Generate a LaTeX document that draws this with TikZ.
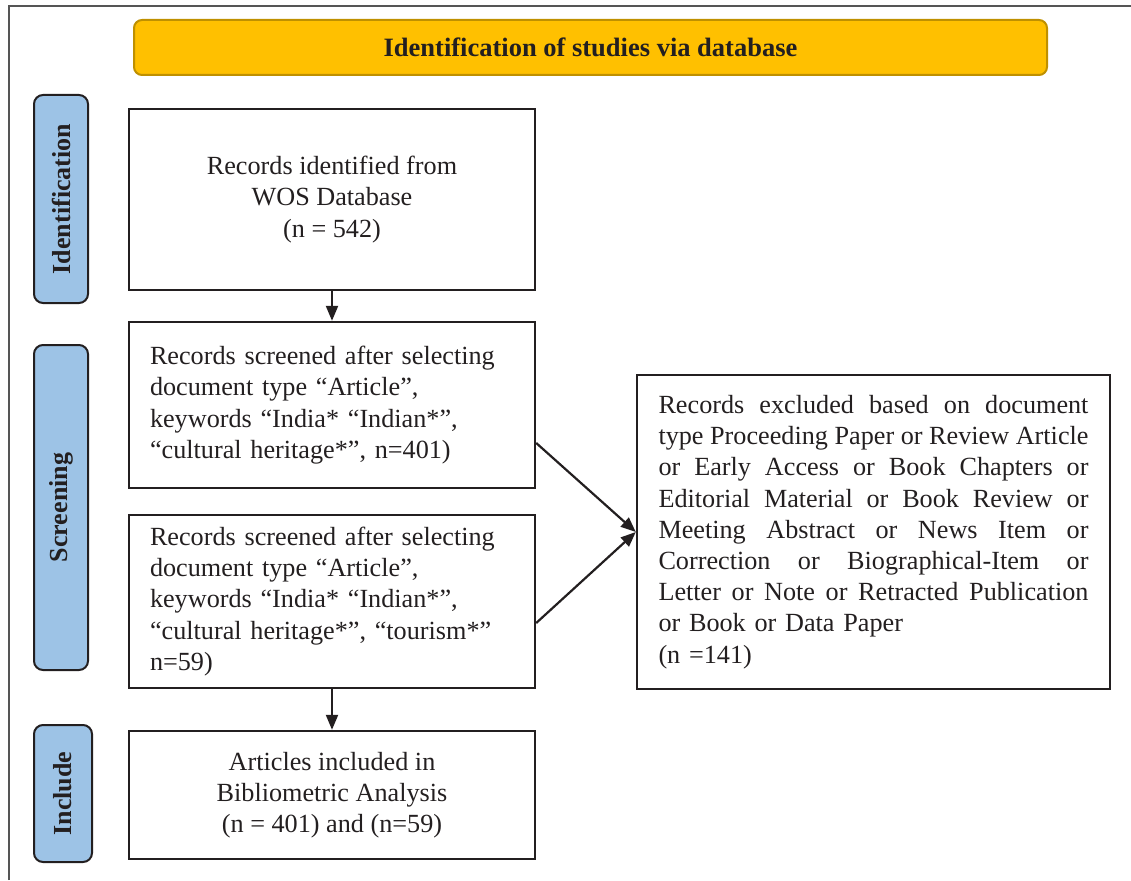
\documentclass[tikz,border=0pt]{standalone}
\usepackage{fontspec}
\setmainfont{Liberation Serif}
\usetikzlibrary{arrows.meta}
\definecolor{ink}{HTML}{231F20}
\definecolor{bannerfill}{HTML}{FFC000}
\definecolor{bannerline}{HTML}{BF9000}
\definecolor{phasefill}{HTML}{9DC3E6}
\definecolor{framegray}{HTML}{555555}
% one fully justified line of fixed width
\newcommand\jline[1]{\leavevmode\hbox to 430pt{\spaceskip=0.25em plus 1fil minus 0.1em\relax #1}}
\begin{document}
\begin{tikzpicture}[x=1pt,y=-1pt,
  every node/.style={text=ink, font=\fontsize{26.2}{31.2}\selectfont, inner sep=0pt},
  banner/.style={draw=bannerline, fill=bannerfill, line width=2pt, rounded corners=8pt,
    minimum width=913pt, minimum height=55pt, font=\fontsize{26.5}{30}\selectfont\bfseries},
  phase/.style={draw=ink, fill=phasefill, line width=2pt, rounded corners=9pt, rotate=90,
    font=\fontsize{26}{30}\selectfont\bfseries},
  stagebox/.style={draw=ink, line width=2.4pt, minimum width=406pt},
  flow/.style={draw=ink, line width=2.2pt, -{Triangle[length=15pt,width=12pt]}}
]
\useasboundingbox (0,0) rectangle (1131,880);
% partial outer frame
\draw[framegray, line width=1.5pt] (9,880) -- (9,6) -- (1131,6);

% title banner
\node[banner] (title) at (590.5,47.5) {Identification of studies via database};

% phase labels
\node[phase, minimum width=208pt, minimum height=54pt] (pid) at (61,199) {Identification};
\node[phase, minimum width=325pt, minimum height=54pt] (pscr) at (61,507.5) {Screening};
\node[phase, minimum width=137pt, minimum height=58pt] (pinc) at (63,793.5) {Include};

% flow boxes
\node[stagebox, minimum height=181pt, align=center] (b1) at (332,199.5)
  {Records identified from\\WOS Database\\(n = 542)};
\node[stagebox, minimum height=166pt, text width=364pt, align=left] (b2) at (332,405)
  {Records screened after selecting\\document type “Article”,\\keywords “India* “Indian*”,\\“cultural heritage*”, n=401)};
\node[stagebox, minimum height=173pt, text width=364pt, align=left] (b3) at (332,601.5)
  {Records screened after selecting\\document type “Article”,\\keywords “India* “Indian*”,\\“cultural heritage*”, “tourism*”\\n=59)};
\node[stagebox, minimum height=128pt, align=center] (b4) at (332,795)
  {Articles included in\\Bibliometric Analysis\\(n = 401) and (n=59)};
\node[stagebox, minimum width=473pt, minimum height=314pt, text width=430pt, align=left] (b5) at (873.5,532)
  {\jline{Records excluded based on document}\\
   \jline{type Proceeding Paper or Review Article}\\
   \jline{or Early Access or Book Chapters or}\\
   \jline{Editorial Material or Book Review or}\\
   \jline{Meeting Abstract or News Item or}\\
   \jline{Correction or Biographical-Item or}\\
   \jline{Letter or Note or Retracted Publication}\\
   or Book or Data Paper\\
   (n =141)};

% connectors
\draw[flow] (b1.south) -- (b2.north);
\draw[flow] (b3.south) -- (b4.north);
\draw[flow] ([yshift=-38pt]b2.east) -- (b5.west);
\draw[flow] ([yshift=-21.5pt]b3.east) -- (b5.west);
\end{tikzpicture}
\end{document}
